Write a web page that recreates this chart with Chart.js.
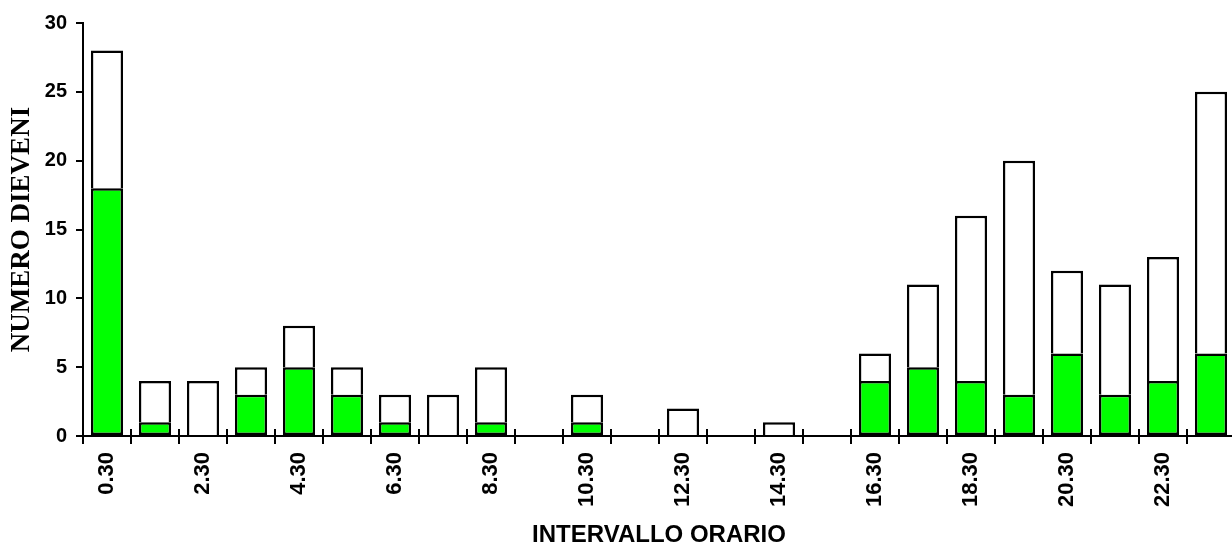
<!DOCTYPE html>
<html>
<head>
<meta charset="utf-8">
<script src="https://cdn.jsdelivr.net/npm/chart.js@4/dist/chart.umd.min.js"></script>
<style>
  html, body { margin: 0; padding: 0; background: #fff; overflow: hidden; }
  #wrap { width: 1232px; height: 547px; overflow: hidden; }
</style>
</head>
<body>
<div id="wrap"><canvas id="oraChart" width="1236" height="547"></canvas></div>
<script>
const categories = ["0.30", "1.30", "2.30", "3.30", "4.30", "5.30", "6.30", "7.30",
  "8.30", "9.30", "10.30", "11.30", "12.30", "13.30", "14.30", "15.30",
  "16.30", "17.30", "18.30", "19.30", "20.30", "21.30", "22.30", "23.30"];

// green part of each bar
const greenValues = [18, 1, 0, 3, 5, 3, 1, 0, 1, 0, 1, 0, 0, 0, 0, 0, 4, 5, 4, 3, 6, 3, 4, 6];
// white part stacked on top
const whiteValues = [10, 3, 4, 2, 3, 2, 2, 3, 4, 0, 2, 0, 2, 0, 1, 0, 2, 6, 12, 17, 6, 8, 9, 19];

const yTicks = [0, 5, 10, 15, 20, 25, 30];

const sans = "'Liberation Sans', Arial, sans-serif";
const serif = "'Liberation Serif', 'Times New Roman', serif";

// small tick marks above the x axis (Excel style crossing ticks)
const innerTicks = {
  id: "innerTicks",
  afterDraw(chart) {
    const xs = chart.scales.x;
    const ctx = chart.ctx;
    const step = xs.getPixelForValue(1) - xs.getPixelForValue(0);
    ctx.save();
    ctx.strokeStyle = "#000";
    ctx.lineWidth = 2;
    ctx.beginPath();
    for (let i = 0; i < categories.length; i++) {
      const px = Math.round(xs.getPixelForValue(i) - step / 2);
      ctx.moveTo(px, xs.top - 7);
      ctx.lineTo(px, xs.top);
    }
    ctx.stroke();
    ctx.restore();
  }
};

const ctx = document.getElementById("oraChart").getContext("2d");

new Chart(ctx, {
  type: "bar",
  data: {
    labels: categories,
    datasets: [
      {
        label: "verde",
        data: greenValues,
        backgroundColor: "#00ff00",
        borderColor: "#000",
        borderWidth: 2.5,
        borderSkipped: false,
        barPercentage: 0.67,
        categoryPercentage: 1,
      },
      {
        label: "bianco",
        data: whiteValues,
        backgroundColor: "#ffffff",
        borderColor: "#000",
        borderWidth: 2.5,
        borderSkipped: "start",
        barPercentage: 0.67,
        categoryPercentage: 1,
      },
    ],
  },
  options: {
    responsive: false,
    animation: false,
    devicePixelRatio: 1,
    layout: { padding: { top: 23, right: 1, left: 0, bottom: 0 } },
    plugins: {
      legend: { display: false },
      tooltip: { enabled: false },
    },
    scales: {
      x: {
        stacked: true,
        afterFit: (scale) => {
          scale.height = 111;
          scale.paddingLeft = 0;
          scale.paddingRight = 0;
        },
        grid: {
          drawOnChartArea: false,
          tickLength: 8,
          color: "#000",
          lineWidth: 2,
        },
        border: { color: "#000", width: 2 },
        ticks: {
          autoSkip: false,
          minRotation: 90,
          maxRotation: 90,
          padding: 8,
          color: "#000",
          font: { family: sans, size: 22, weight: "bold" },
          callback: (value, i) => (i % 2 === 0 ? categories[i] : ""),
        },
        title: {
          display: true,
          text: "INTERVALLO ORARIO",
          color: "#000",
          font: { family: sans, size: 24, weight: "bold", lineHeight: 1 },
          padding: 0,
        },
      },
      y: {
        stacked: true,
        min: yTicks[0],
        max: yTicks[yTicks.length - 1],
        afterFit: (scale) => { scale.width = 83; },
        afterBuildTicks: (scale) => {
          scale.ticks = yTicks.map((v) => ({ value: v }));
        },
        grid: {
          drawOnChartArea: false,
          tickLength: 7,
          color: "#000",
          lineWidth: 2,
        },
        border: { color: "#000", width: 2 },
        ticks: {
          padding: 9,
          color: "#000",
          font: { family: sans, size: 20, weight: "bold" },
        },
        title: {
          display: true,
          text: "NUMERO DIEVENI",
          color: "#000",
          font: { family: serif, size: 27, weight: "bold", lineHeight: 1.2 },
          padding: { top: 6, bottom: 0 },
        },
      },
    },
  },
  plugins: [innerTicks],
});
</script>
</body>
</html>
